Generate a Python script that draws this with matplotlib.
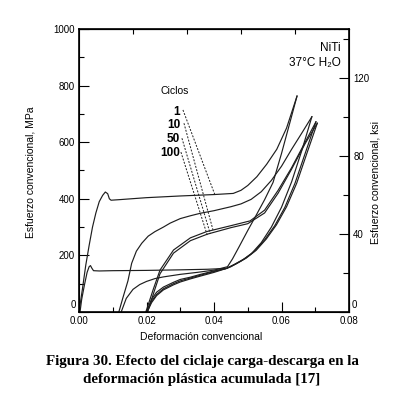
import matplotlib
matplotlib.use('Agg')
import matplotlib.pyplot as plt
from matplotlib.ticker import MultipleLocator, FixedLocator, NullFormatter, FuncFormatter

plt.rcParams['font.family'] = ['Liberation Sans', 'DejaVu Sans']

W, H = 393, 400
MPA_PER_KSI = 6.895

# ---- data (strain, MPa) ----
# cycle 1 loading (upper plateau with yield drop)
c1_load_x = [0.0, 0.001, 0.002, 0.003, 0.004, 0.005, 0.006, 0.007, 0.0078, 0.0085, 0.009, 0.0095,
             0.012, 0.020, 0.030, 0.040, 0.0457, 0.048, 0.050, 0.0527, 0.0556, 0.0586, 0.0615, 0.0646]
c1_load_y = [0, 80, 165, 235, 300, 350, 390, 412, 424, 418, 400, 395,
             397, 404, 410, 415, 419, 430, 447, 478, 522, 575, 650, 763]

# cycle 1 unloading, residual strain ~0.0125
c1_unl_x = [0.0646, 0.0625, 0.060, 0.0575, 0.055, 0.0525, 0.050, 0.0475, 0.0455, 0.044,
            0.040, 0.035, 0.030, 0.025, 0.0225, 0.020, 0.018, 0.016, 0.014, 0.0125]
c1_unl_y = [763, 670, 560, 458, 397, 342, 288, 232, 188, 160,
            148, 140, 133, 124, 118, 108, 97, 80, 48, 0]

# cycle 10 loading
c10_load_x = [0.0118, 0.013, 0.0145, 0.0156, 0.017, 0.0186, 0.0205, 0.0225, 0.025, 0.027, 0.030,
              0.033, 0.036, 0.040, 0.045, 0.048, 0.051, 0.054, 0.057, 0.060, 0.063, 0.066, 0.069]
c10_load_y = [0, 50, 110, 172, 215, 243, 268, 284, 300, 314, 330,
              340, 349, 358, 372, 382, 398, 425, 465, 515, 575, 632, 690]

# cycle 10 unloading
c10_unl_x = [0.069, 0.066, 0.063, 0.060, 0.057, 0.054, 0.051, 0.048, 0.045, 0.0437,
             0.040, 0.036, 0.033, 0.030, 0.028, 0.025, 0.023, 0.0215, 0.020]
c10_unl_y = [690, 570, 460, 370, 300, 245, 205, 180, 160, 154,
             145, 133, 123, 115, 105, 88, 70, 45, 0]

# cycle 50 loading / unloading
c50_load_x = [0.0198, 0.022, 0.024, 0.028, 0.033, 0.0378, 0.045, 0.0507, 0.055, 0.059, 0.063, 0.067, 0.0702]
c50_load_y = [0, 80, 148, 219, 262, 284, 305, 322, 360, 430, 510, 600, 672]
c50_unl_x = [0.0702, 0.067, 0.064, 0.061, 0.058, 0.055, 0.052, 0.049, 0.046, 0.0437,
             0.040, 0.036, 0.033, 0.030, 0.028, 0.025, 0.023, 0.0215, 0.0200]
c50_unl_y = [672, 560, 455, 370, 305, 255, 215, 188, 168, 154,
             143, 130, 120, 110, 100, 82, 62, 38, 0]

# cycle 100 loading / unloading
c100_load_x = [0.0203, 0.0222, 0.024, 0.028, 0.033, 0.038, 0.045, 0.050, 0.055, 0.059, 0.063, 0.067, 0.0706]
c100_load_y = [0, 70, 135, 208, 252, 275, 298, 312, 350, 420, 505, 595, 667]
c100_unl_x = [0.0706, 0.0675, 0.0645, 0.0615, 0.0585, 0.0555, 0.0525, 0.0495, 0.0465, 0.0437,
              0.040, 0.036, 0.033, 0.030, 0.028, 0.025, 0.023, 0.0215, 0.0202]
c100_unl_y = [667, 560, 455, 372, 308, 258, 218, 190, 170, 154,
              140, 127, 117, 106, 96, 78, 58, 33, 0]

# lower plateau curve with small bump near the origin
low_x = [0.0003, 0.0008, 0.0016, 0.0024, 0.003, 0.0034, 0.0038, 0.0043, 0.006, 0.010, 0.020, 0.030, 0.038, 0.0437]
low_y = [0, 45, 95, 140, 160, 164, 155, 146, 145, 146, 147, 149, 151, 154]

curves = [(c1_load_x, c1_load_y), (c1_unl_x, c1_unl_y),
          (c10_load_x, c10_load_y), (c10_unl_x, c10_unl_y),
          (c50_load_x, c50_load_y), (c50_unl_x, c50_unl_y),
          (c100_load_x, c100_load_y), (c100_unl_x, c100_unl_y),
          (low_x, low_y)]

# cycle labels and their dashed leader lines (start, end)
cycle_labels = ['1', '10', '50', '100']
label_y = [706, 660, 612, 562]
leader_x = [(0.0308, 0.0403), (0.0311, 0.0397), (0.0305, 0.0389), (0.0302, 0.0381)]
leader_y = [(714, 413), (667, 290), (614, 276), (565, 268)]

fig = plt.figure(figsize=(W / 100, H / 100), dpi=100)
ax = fig.add_axes([79 / W, 1 - 312 / H, 270 / W, 283 / H])

for xs, ys in curves:
    ax.plot(xs, ys, color='#1e1e1e', lw=0.85)

for (x0, x1), (y0, y1) in zip(leader_x, leader_y):
    ax.plot([x0, x1], [y0, y1], color='#1e1e1e', lw=0.7, ls=(0, (2, 1.5)))

for lab, ly in zip(cycle_labels, label_y):
    ax.text(0.0300, ly, lab, ha='right', va='center', fontsize=8.5, fontweight='bold')
ax.text(0.0283, 782, 'Ciclos', ha='center', va='center', fontsize=7.5)

ax.text(0.0775, 933, 'NiTi', ha='right', va='center', fontsize=8.5)
ax.text(0.0775, 880, '37°C H₂O', ha='right', va='center', fontsize=8.5)

# zero labels are drawn by hand, a little above the x tick labels
no_zero = FuncFormatter(lambda v, pos: '' if v == 0 else f'{v:g}')

ax.set_xlim(0, 0.08)
ax.set_ylim(0, 1000)
ax.xaxis.set_minor_locator(MultipleLocator(0.01))
ax.yaxis.set_major_locator(MultipleLocator(200))
ax.yaxis.set_minor_locator(MultipleLocator(100))
ax.yaxis.set_major_formatter(no_zero)
ax.set_xticks([0, 0.02, 0.04, 0.06, 0.08])
ax.set_xticklabels(['0.00', '0.02', '0.04', '0.06', '0.08'])
ax.tick_params(which='major', direction='in', length=7, width=0.8, labelsize=7, pad=3)
ax.tick_params(which='minor', direction='in', length=3.5, width=0.8)
for s in ax.spines.values():
    s.set_linewidth(1.2)

ax2 = ax.twinx()
ax2.set_ylim(0, 1000 / MPA_PER_KSI)
ax2.yaxis.set_major_locator(MultipleLocator(40))
ax2.yaxis.set_minor_locator(MultipleLocator(20))
ax2.yaxis.set_major_formatter(no_zero)
ax2.tick_params(which='major', direction='in', length=7, width=0.8, labelsize=7, pad=3)
ax2.tick_params(which='minor', direction='in', length=4, width=0.8)

fig.text(76 / W, 1 - 305 / H, '0', ha='right', va='center', fontsize=7)
fig.text(352 / W, 1 - 305 / H, '0', ha='left', va='center', fontsize=7)

top = ax.secondary_xaxis('top')
top.xaxis.set_major_locator(FixedLocator([0.016, 0.032, 0.048, 0.064]))
top.xaxis.set_major_formatter(NullFormatter())
top.tick_params(direction='in', length=3.5, width=0.8)

fig.text(31 / W, 1 - 172 / H, 'Esfuerzo convencional, MPa', rotation=90, ha='center', va='center', fontsize=7.5)
fig.text(375 / W, 1 - 183 / H, 'Esfuerzo convencional, ksi', rotation=90, ha='center', va='center', fontsize=7.5)
fig.text(201 / W, 1 - 337 / H, 'Deformación convencional', ha='center', va='center', fontsize=7.5)

fig.text(202 / W, 1 - 362 / H, 'Figura 30. Efecto del ciclaje carga-descarga en la',
         ha='center', va='center', fontsize=10.8, fontweight='bold', family='Liberation Serif')
fig.text(202 / W, 1 - 380 / H, 'deformación plástica acumulada [17]',
         ha='center', va='center', fontsize=10.8, fontweight='bold', family='Liberation Serif')

fig.savefig('out.png', dpi=100)
